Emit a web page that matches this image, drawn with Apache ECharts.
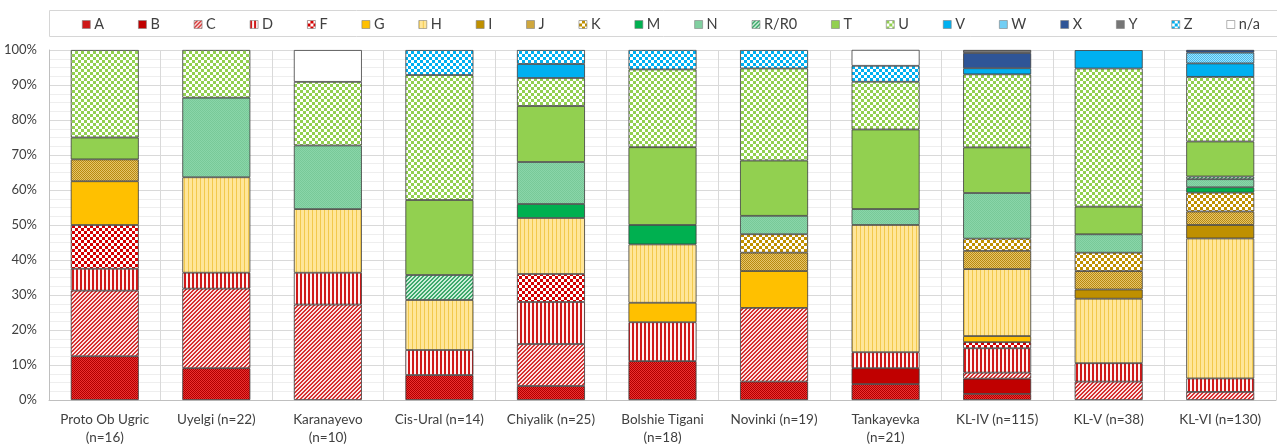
<!DOCTYPE html>
<html>
<head>
<meta charset="utf-8">
<script src="https://cdn.jsdelivr.net/npm/echarts@6/dist/echarts.min.js"></script>
<style>
  html, body { margin: 0; padding: 0; background: #fff; }
  #chart { width: 1277px; height: 447px; }
</style>
</head>
<body>
<div id="chart"></div>
<script>
// Populations (x categories)
const populations = [
  'Proto Ob Ugric\n(n=16)', 'Uyelgi (n=22)', 'Karanayevo\n(n=10)', 'Cis-Ural (n=14)',
  'Chiyalik (n=25)', 'Bolshie Tigani\n(n=18)', 'Novinki (n=19)', 'Tankayevka\n(n=21)',
  'KL-IV (n=115)', 'KL-V (n=38)', 'KL-VI (n=130)'
];

// Haplogroup shares per population, in percent ('-' = absent)
const hgA  = [12.5, 9.09, '-', 7.14, 4, 11.11, 5.26, 4.55, 1.74, '-', '-'];
const hgB  = ['-', '-', '-', '-', '-', '-', '-', 4.55, 4.35, '-', '-'];
const hgC  = [18.75, 22.73, 27.27, '-', 12, '-', 21.05, '-', 1.74, 5.26, 2.31];
const hgD  = [6.25, 4.55, 9.09, 7.14, 12, 11.11, '-', 4.55, 6.96, 5.26, 3.85];
const hgF  = [12.5, '-', '-', '-', 8, '-', '-', '-', 1.74, '-', '-'];
const hgG  = [12.5, '-', '-', '-', '-', 5.56, 10.53, '-', 1.74, '-', '-'];
const hgH  = ['-', 27.27, 18.18, 14.29, 16, 16.67, '-', 36.36, 19.13, 18.42, 40];
const hgI  = ['-', '-', '-', '-', '-', '-', '-', '-', '-', 2.63, 3.85];
const hgJ  = [6.25, '-', '-', '-', '-', '-', 5.26, '-', 5.22, 5.26, 3.85];
const hgK  = ['-', '-', '-', '-', '-', '-', 5.26, '-', 3.48, 5.26, 5.38];
const hgM  = ['-', '-', '-', '-', 4, 5.56, '-', '-', '-', '-', 1.54];
const hgN  = ['-', 22.73, 18.18, '-', 12, '-', 5.26, 4.55, 13.04, 5.26, 2.31];
const hgR  = ['-', '-', '-', 7.14, '-', '-', '-', '-', '-', '-', 0.77];
const hgT  = [6.25, '-', '-', 21.43, 16, 22.22, 15.79, 22.73, 13.04, 7.89, 10];
const hgU  = [25, 13.64, 18.18, 35.71, 8, 22.22, 26.32, 13.64, 20.87, 39.47, 18.46];
const hgV  = ['-', '-', '-', '-', 4, '-', '-', '-', 1.74, 5.26, 3.85];
const hgW  = ['-', '-', '-', '-', '-', '-', '-', '-', '-', '-', 3.08];
const hgX  = ['-', '-', '-', '-', '-', '-', '-', '-', 4.35, '-', 0.77];
const hgY  = ['-', '-', '-', '-', '-', '-', '-', '-', 0.87, '-', '-'];
const hgZ  = ['-', '-', '-', 7.14, 4, 5.56, 5.26, 4.55, '-', '-', '-'];
const hgNA = ['-', '-', 9.09, '-', '-', '-', '-', 4.55, '-', '-', '-'];

const yTicks = [0, 10, 20, 30, 40, 50, 60, 70, 80, 90, 100];

// ---- fill patterns (small repeating canvas tiles) ----
function tile(w, h, paint) {
  const c = document.createElement('canvas');
  c.width = w; c.height = h;
  const g = c.getContext('2d');
  paint(g, w, h);
  return { image: c, repeat: 'repeat' };
}
function px(g, x, y, col) { g.fillStyle = col; g.fillRect(x, y, 1, 1); }
function dots(a, b) {
  return tile(2, 2, g => { px(g,0,0,a); px(g,1,1,a); px(g,1,0,b); px(g,0,1,b); });
}
function checker(a, b, s) {
  return tile(2 * s, 2 * s, g => {
    g.fillStyle = b; g.fillRect(0, 0, 2 * s, 2 * s);
    g.fillStyle = a; g.fillRect(0, 0, s, s); g.fillRect(s, s, s, s);
  });
}
function diag(line, bg) {
  return tile(4, 4, g => {
    g.fillStyle = bg; g.fillRect(0, 0, 4, 4);
    for (let i = 0; i < 4; i++) { px(g, i, 3 - i, line); px(g, i, (6 - i) % 4, line); }
  });
}
function vstripes(a, na, b, nb) {
  return tile(na + nb, 1, g => {
    g.fillStyle = a; g.fillRect(0, 0, na, 1);
    g.fillStyle = b; g.fillRect(na, 0, nb, 1);
  });
}

const fills = {
  A: dots('#B00000', '#EC3030'),
  B: '#C00000',
  C: diag('#D63030', '#FBE3E3'),
  D: vstripes('#D01818', 2, '#FFF2F2', 2),
  F: checker('#FFFFFF', '#D40000', 3),
  G: '#FFC000',
  H: vstripes('#F2C94C', 1, '#FFE699', 3),
  I: '#BF9000',
  J: dots('#B88A10', '#E6C46A'),
  K: checker('#FFFFFF', '#C09000', 3),
  M: '#00B050',
  N: dots('#78C998', '#8AD5A9'),
  R: diag('#3CA96B', '#CDEDD8'),
  T: '#92D050',
  U: checker('#92D050', '#FFFFFF', 3),
  V: '#00B0F0',
  W: dots('#3FBDF0', '#A6DFF8'),
  X: '#2F5597',
  Y: '#767676',
  Z: checker('#00B0F0', '#FFFFFF', 3),
  NA: '#FFFFFF'
};

const groups = [
  ['A', hgA, fills.A], ['B', hgB, fills.B], ['C', hgC, fills.C], ['D', hgD, fills.D],
  ['F', hgF, fills.F], ['G', hgG, fills.G], ['H', hgH, fills.H], ['I', hgI, fills.I],
  ['J', hgJ, fills.J], ['K', hgK, fills.K], ['M', hgM, fills.M], ['N', hgN, fills.N],
  ['R/R0', hgR, fills.R], ['T', hgT, fills.T], ['U', hgU, fills.U], ['V', hgV, fills.V],
  ['W', hgW, fills.W], ['X', hgX, fills.X], ['Y', hgY, fills.Y], ['Z', hgZ, fills.Z],
  ['n/a', hgNA, fills.NA]
];

const FONT = 'Lato, "Open Sans", sans-serif';
const chart = echarts.init(document.getElementById('chart'), null, { renderer: 'canvas' });

chart.setOption({
  animation: false,
  backgroundColor: '#ffffff',
  textStyle: { fontFamily: FONT },
  graphic: [{
    type: 'rect',
    shape: { x: 49.5, y: 10.5, width: 1240, height: 26 },
    style: { fill: 'none', stroke: '#D6D6D6', lineWidth: 1 },
    silent: true
  }],
  legend: {
    left: 82,
    top: 17,
    padding: 0,
    itemGap: 34,
    itemWidth: 8,
    itemHeight: 8,
    icon: 'rect',
    textStyle: { fontFamily: FONT, fontSize: 14.5, color: '#404040', padding: [0, 0, 0, -1] },
    itemStyle: { borderColor: '#7F7F7F', borderWidth: 0.6 },
    data: groups.map(g => g[0])
  },
  grid: { left: 49, right: 1, top: 50, bottom: 46, containLabel: false },
  xAxis: {
    type: 'category',
    data: populations,
    axisLine: { show: true, lineStyle: { color: '#BFBFBF' } },
    axisTick: { show: false },
    splitLine: { show: true, lineStyle: { color: '#D9D9D9', width: 1 } },
    axisLabel: {
      interval: 0, margin: 11, fontFamily: FONT, fontSize: 13.5, color: '#404040',
      lineHeight: 18
    }
  },
  yAxis: {
    type: 'value',
    min: yTicks[0],
    max: yTicks[yTicks.length - 1],
    interval: 10,
    axisLine: { show: true, lineStyle: { color: '#BFBFBF' } },
    axisTick: { show: false },
    axisLabel: { margin: 12, fontFamily: FONT, fontSize: 13, color: '#404040', formatter: '{value}%' },
    splitLine: { show: true, lineStyle: { color: '#D9D9D9', width: 1 } },
    minorTick: { show: false, splitNumber: 4 },
    minorSplitLine: { show: true, lineStyle: { color: '#EEEEEE', width: 1 } }
  },
  series: groups.map(([name, values, fill]) => ({
    name,
    type: 'bar',
    stack: 'share',
    barWidth: 68,
    data: values,
    itemStyle: {
      color: fill,
      borderColor: '#3C3C3C',
      borderWidth: 0.8
    },
    emphasis: { disabled: true }
  }))
});
</script>
</body>
</html>
